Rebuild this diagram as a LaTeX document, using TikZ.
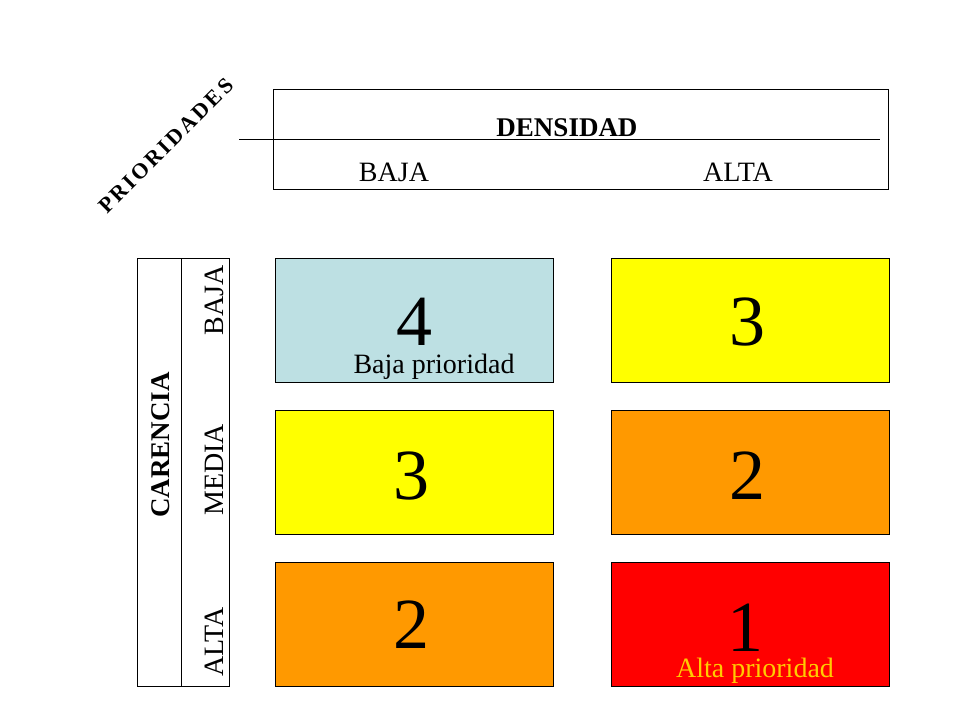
\documentclass[tikz,border=0pt]{standalone}
\usepackage{fontspec}
\setmainfont{Liberation Serif}
\begin{document}
\begin{tikzpicture}[x=1pt,y=-1pt,
  cell/.style={draw=black,line width=0.8pt,minimum width=278pt,minimum height=124pt,anchor=north west,inner sep=0pt},
  big/.style={font=\fontsize{72}{72}\selectfont},
  lbl/.style={font=\fontsize{28}{28}\selectfont},
  blbl/.style={font=\fontsize{27}{27}\selectfont\bfseries}]
\useasboundingbox (0,0) rectangle (960,720);
\definecolor{lblue}{HTML}{BDE0E3}
\definecolor{yel}{HTML}{FFFF00}
\definecolor{ora}{HTML}{FF9900}
\definecolor{red1}{HTML}{FF0000}
\definecolor{gold}{HTML}{FFCC00}
% top box
\node[draw,line width=0.8pt,minimum width=615pt,minimum height=100pt,anchor=north west,inner sep=0pt] (top) at (273,89) {};
\coordinate (l1) at (239,139); \coordinate (l2) at (880,139);
\draw[line width=0.8pt] (l1) -- (l2);
\node[blbl] (dens) at (567,128) {DENSIDAD};
\node[lbl] (db) at (394,172) {BAJA};
\node[lbl] (da) at (738,172) {ALTA};
\node[font=\fontsize{22}{22}\selectfont\bfseries\addfontfeature{LetterSpace=12},rotate=45] (prio) at (166,146) {PRIORIDADES};
% left box
\node[draw,line width=0.8pt,minimum width=92pt,minimum height=428pt,anchor=north west,inner sep=0pt] (left) at (137,258) {};
\coordinate (d1) at (181,258); \coordinate (d2) at (181,686);
\draw[line width=0.8pt] (d1) -- (d2);
\node[blbl,rotate=90] (car) at (161,445) {CARENCIA};
\node[lbl,rotate=90] (cb) at (214,300) {BAJA};
\node[lbl,rotate=90] (cm) at (214,470) {MEDIA};
\node[lbl,rotate=90] (ca) at (214,642) {ALTA};
% cells
\node[cell,fill=lblue] (c11) at (275,258) {};
\node[cell,fill=yel] (c12) at (611,258) {};
\node[cell,fill=yel] (c21) at (275,410) {};
\node[cell,fill=ora] (c22) at (611,410) {};
\node[cell,fill=ora] (c31) at (275,562) {};
\node[cell,fill=red1] (c32) at (611,562) {};
\node[big] (n11) at (414,322) {4};
\node[big] (n12) at (747,322) {3};
\node[big] (n21) at (411,476) {3};
\node[big] (n22) at (747,476) {2};
\node[big] (n31) at (411,625) {2};
\node[big] (n32) at (745,628) {1};
\node[lbl] (bp) at (434,367) {Baja prioridad};
\node[lbl,text=gold] (ap) at (755,671) {Alta prioridad};
\end{tikzpicture}
\end{document}
